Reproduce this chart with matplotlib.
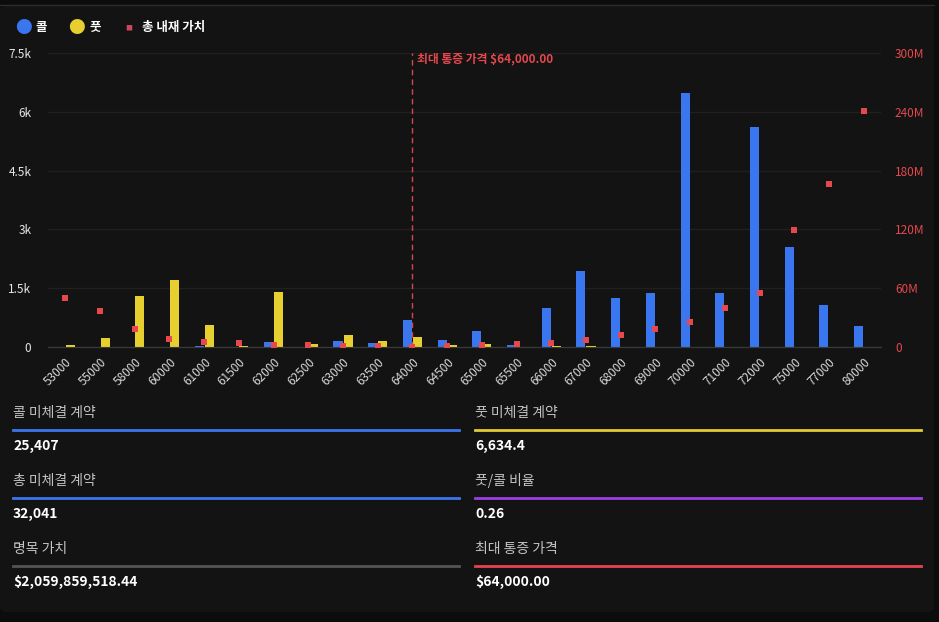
import numpy as np
import matplotlib
matplotlib.use('Agg')
import matplotlib.pyplot as plt
from matplotlib.patches import FancyBboxPatch

plt.rcParams['font.family'] = ['Noto Sans CJK KR', 'DejaVu Sans']

# 행사가별 미체결 계약
strikes = ['53000', '55000', '58000', '60000', '61000', '61500', '62000', '62500',
           '63000', '63500', '64000', '64500', '65000', '65500', '66000', '67000',
           '68000', '69000', '70000', '71000', '72000', '75000', '77000', '80000']
calls = [0, 0, 0, 0, 30, 0, 130, 0, 150, 100, 690, 180,
         410, 50, 1000, 1950, 1250, 1380, 6480, 1380, 5610, 2550, 1070, 540]
puts = [50, 230, 1300, 1710, 560, 30, 1400, 80, 300, 150, 255, 50,
        80, 0, 20, 20, 0, 0, 0, 0, 0, 0, 0, 0]
intrinsic_m = [50, 37, 18.7, 8.5, 5.4, 4.4, 2.4, 1.8, 1.0, 0.7, 0.5, 1.5,
               2.4, 3.4, 4.4, 7.5, 12.6, 18.7, 25.8, 40, 55.4, 119.7, 166.6, 241]

left_ticks = [0, 1500, 3000, 4500, 6000, 7500]
left_labels = ['0', '1.5k', '3k', '4.5k', '6k', '7.5k']
right_ticks = [0, 60, 120, 180, 240, 300]
right_labels = ['0', '60M', '120M', '180M', '240M', '300M']

max_pain_idx = strikes.index('64000')
max_pain_label = '최대 통증 가격 $64,000.00'

stats = [
    ('콜 미체결 계약', '25,407', '#3b76ee'),
    ('풋 미체결 계약', '6,634.4', '#e3cb35'),
    ('총 미체결 계약', '32,041', '#3b76ee'),
    ('풋/콜 비율', '0.26', '#9b3fe0'),
    ('명목 가치', '$2,059,859,518.44', '#555558'),
    ('최대 통증 가격', '$64,000.00', '#e5444f'),
]

BG = '#131313'
BLUE = '#3a76f0'
YELLOW = '#e6cf2e'
RED = '#e5484d'
GRID = '#202020'
W, H = 939, 622

fig = plt.figure(figsize=(W / 100, H / 100), dpi=100)
fig.patch.set_facecolor('#0c0c0c')
card = FancyBboxPatch((0, 10 / H), 934 / W, (H - 10 - 6) / H,
                      boxstyle='round,pad=0,rounding_size=0.008',
                      transform=fig.transFigure, facecolor=BG, edgecolor='none',
                      zorder=-10)
fig.patches.append(card)
fig.add_artist(plt.Line2D([0, 934 / W], [1 - 5 / H, 1 - 5 / H],
                          transform=fig.transFigure, color='#2c2c2c', lw=1))

ax = fig.add_axes([48 / W, (H - 347) / H, (881 - 48) / W, (347 - 53) / H])
ax.set_facecolor(BG)
ax2 = ax.twinx()

x = np.arange(len(strikes))
bw = 0.26
ax.bar(x - 0.145, calls, width=bw, color=BLUE, zorder=3)
ax.bar(x + 0.145, puts, width=bw, color=YELLOW, zorder=3)
ax2.scatter(x, intrinsic_m, marker='s', s=15, color=RED, zorder=4, linewidths=0)

ax.set_xlim(-0.5, len(strikes) - 0.5)
ax.set_ylim(0, 7500)
ax2.set_ylim(0, 300)

ax.set_yticks(left_ticks)
ax.set_yticklabels(left_labels)
ax2.set_yticks(right_ticks)
ax2.set_yticklabels(right_labels)
ax.set_xticks(x)
ax.set_xticklabels(strikes, rotation=45, ha='right', rotation_mode='anchor')

ax.grid(axis='y', color=GRID, lw=1, zorder=0)
ax.tick_params(axis='y', length=0, pad=12, labelsize=8.5, colors='#e6e6e6')
ax.tick_params(axis='x', length=0, pad=6, labelsize=8.5, colors='#d8d8d8')
ax2.tick_params(axis='y', length=0, pad=10, labelsize=8.5, colors=RED)
for a in (ax, ax2):
    for side in ('top', 'right', 'left'):
        a.spines[side].set_visible(False)
    a.spines['bottom'].set_color('#3a3a3a')

# 최대 통증 가격 표시
ax.axvline(max_pain_idx, color='#d8454f', lw=1, ls=(0, (4, 3)), zorder=5)
ax.text(max_pain_idx + 0.12, 7350, max_pain_label, color=RED, fontsize=8.5,
        fontweight='bold', va='center', ha='left')

# 범례
leg_y = 1 - 28 / H
fig.text(23 / W, leg_y, '●', color=BLUE, fontsize=12, va='center', ha='center')
fig.text(36 / W, leg_y, '콜', color='white', fontsize=9, fontweight='bold', va='center')
fig.text(76 / W, leg_y, '●', color=YELLOW, fontsize=12, va='center', ha='center')
fig.text(89 / W, leg_y, '풋', color='white', fontsize=9, fontweight='bold', va='center')
fig.text(129 / W, leg_y, '■', color='#c8475a', fontsize=5, va='center', ha='center')
fig.text(142 / W, leg_y, '총 내재 가치', color='white', fontsize=9,
         fontweight='bold', va='center')

# 하단 통계
col_x = [(13, 459), (475, 921)]
row_y = [413, 481, 549]
for i, (label, value, color) in enumerate(stats):
    x0, x1 = col_x[i % 2]
    y0 = row_y[i // 2]
    fig.text(x0 / W, 1 - y0 / H, label, color='#c4c4c4', fontsize=10, va='center')
    fig.add_artist(plt.Line2D([x0 / W, x1 / W], [1 - (y0 + 17) / H, 1 - (y0 + 17) / H],
                              transform=fig.transFigure, color=color, lw=2))
    fig.text(x0 / W, 1 - (y0 + 33) / H, value, color='white', fontsize=10,
             va='center', fontweight='bold')

fig.savefig('out.png', dpi=100, facecolor=fig.get_facecolor())
